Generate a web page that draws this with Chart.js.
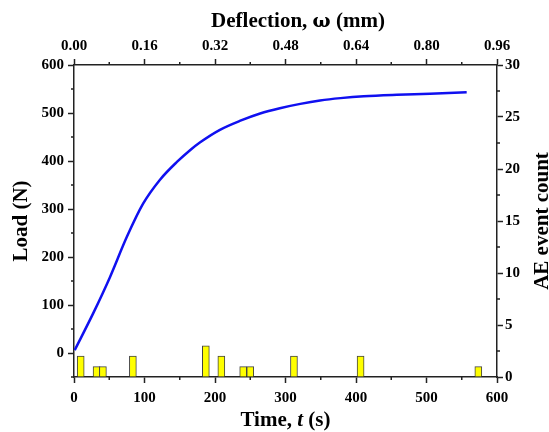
<!DOCTYPE html>
<html>
<head>
<meta charset="utf-8">
<script src="https://cdn.jsdelivr.net/npm/chart.js@4.4.0/dist/chart.umd.min.js"></script>
<style>
html,body{margin:0;padding:0;background:#fff;}
#box{width:549px;height:432px;}
</style>
</head>
<body>
<div id="box"><canvas id="graf"></canvas></div>
<script>
// curva carico-tempo
var tempo=[1,27,51,75,98,122,146,165,179,207,236,264,292,321,349,378,411,458,505,557];
var carico=[6,82,158,242,311,361,398,423,439,465,484,499,510,519,526,531,535,538,540,543];

// eventi AE (istogramma)
var tempoAE=[9.5,32,41,83.5,187,209,240,250,312,406.5,573.5];
var conteggioAE=[2,1,1,2,3,2,1,1,2,2,1];

// tick principali e secondari
var tickTempo=[0,100,200,300,400,500,600];
var tickCarico=[0,100,200,300,400,500,600];
var tickAE=[0,5,10,15,20,25,30];
var tickFreccia=[0,0.16,0.32,0.48,0.64,0.80,0.96];
var minTempo=[50,150,250,350,450,550];
var minCarico=[-50,50,150,250,350,450,550];
var minAE=[2.5,7.5,12.5,17.5,22.5,27.5];
var minFreccia=[0.08,0.24,0.40,0.56,0.72,0.88];

var FONT="'Liberation Serif', 'Times New Roman', serif";
var ASSE="#222";

Chart.defaults.font.family=FONT;
Chart.defaults.font.size=15;
Chart.defaults.font.weight="bold";
Chart.defaults.color="#000";

function punti(xs,ys){
    var out=[];
    for(var i=0;i<xs.length;i++) out.push({x:xs[i],y:ys[i]});
    return out;
}

function fissaTick(lista){
    return function(s){ s.ticks=lista.map(function(v){return {value:v};}); };
}

function griglia(){
    return {drawOnChartArea:false,drawTicks:true,tickLength:6,tickColor:ASSE,tickWidth:1.5,offset:false};
}

// scrive un testo fatto di pezzi con font diversi, centrato in (x,y)
function scrivi(ctx,pezzi,x,y){
    var w=0;
    pezzi.forEach(function(p){ ctx.font=p.f; w+=ctx.measureText(p.t).width; });
    var cx=x-w/2;
    ctx.textAlign="left";
    ctx.textBaseline="middle";
    ctx.fillStyle="#000";
    pezzi.forEach(function(p){
        ctx.font=p.f;
        ctx.fillText(p.t,cx,y);
        cx+=ctx.measureText(p.t).width;
    });
}

var B="bold 21px "+FONT;
var BI="italic bold 21px "+FONT;

var titoli={
    id:"titoli",
    afterDraw:function(chart){
        var ctx=chart.ctx, a=chart.chartArea, s=chart.scales;
        ctx.save();
        // tick secondari
        ctx.strokeStyle=ASSE;
        ctx.lineWidth=1.5;
        ctx.beginPath();
        minTempo.forEach(function(v){ var p=s.x.getPixelForValue(v); ctx.moveTo(p,a.bottom); ctx.lineTo(p,a.bottom+3); });
        minFreccia.forEach(function(v){ var p=s.x2.getPixelForValue(v); ctx.moveTo(p,a.top); ctx.lineTo(p,a.top-3); });
        minCarico.forEach(function(v){ var p=s.y.getPixelForValue(v); ctx.moveTo(a.left,p); ctx.lineTo(a.left-3,p); });
        minAE.forEach(function(v){ var p=s.y2.getPixelForValue(v); ctx.moveTo(a.right,p); ctx.lineTo(a.right+3,p); });
        ctx.stroke();

        // titoli degli assi
        var cy=(a.top+a.bottom)/2;
        scrivi(ctx,[{t:"Time, ",f:B},{t:"t",f:BI},{t:" (s)",f:B}],(a.left+a.right)/2,421);
        scrivi(ctx,[{t:"Deflection, ",f:B},{t:"\u03c9",f:"bold 19px 'DejaVu Serif'"},{t:" (mm)",f:B}],298,22);
        ctx.translate(22,cy);
        ctx.rotate(-Math.PI/2);
        scrivi(ctx,[{t:"Load (N)",f:B}],0,0);
        ctx.restore();
        ctx.save();
        ctx.translate(543,cy);
        ctx.rotate(-Math.PI/2);
        scrivi(ctx,[{t:"AE event count",f:B}],0,0);
        ctx.restore();
    }
};

var grafico=new Chart("graf",{
    data:{
        datasets:[{
            type:"line",
            data:punti(tempo,carico),
            xAxisID:"x",
            yAxisID:"y",
            borderColor:"#1010f0",
            borderWidth:2.5,
            pointRadius:0,
            cubicInterpolationMode:"monotone",
            order:0
        },{
            type:"bar",
            data:punti(tempoAE,conteggioAE),
            xAxisID:"x",
            yAxisID:"y2",
            backgroundColor:"#ffff00",
            borderColor:"#444",
            borderWidth:1,
            barThickness:7,
            order:1
        }]
    },
    options:{
        responsive:true,
        maintainAspectRatio:false,
        animation:false,
        layout:{padding:0},
        plugins:{legend:{display:false},tooltip:{enabled:false}},
        scales:{
            x:{
                type:"linear",position:"bottom",min:0,max:600,offset:false,
                afterBuildTicks:fissaTick(tickTempo),
                afterFit:function(s){ s.height=55; },
                grid:griglia(),
                border:{display:true,color:ASSE,width:1.5},
                ticks:{padding:6,maxRotation:0}
            },
            x2:{
                type:"linear",position:"top",min:0,max:0.96,offset:false,
                afterBuildTicks:fissaTick(tickFreccia),
                afterFit:function(s){ s.height=65; },
                grid:griglia(),
                border:{display:true,color:ASSE,width:1.5},
                ticks:{padding:4,maxRotation:0,callback:function(v){return v.toFixed(2);}}
            },
            y:{
                type:"linear",position:"left",min:-50,max:600,
                afterBuildTicks:fissaTick(tickCarico),
                afterFit:function(s){ s.width=74; },
                grid:griglia(),
                border:{display:true,color:ASSE,width:1.5},
                ticks:{padding:4}
            },
            y2:{
                type:"linear",position:"right",min:0,max:30,
                afterBuildTicks:fissaTick(tickAE),
                afterFit:function(s){ s.width=52; },
                grid:griglia(),
                border:{display:true,color:ASSE,width:1.5},
                ticks:{padding:2}
            }
        }
    },
    plugins:[titoli]
});
</script>
</body>
</html>
